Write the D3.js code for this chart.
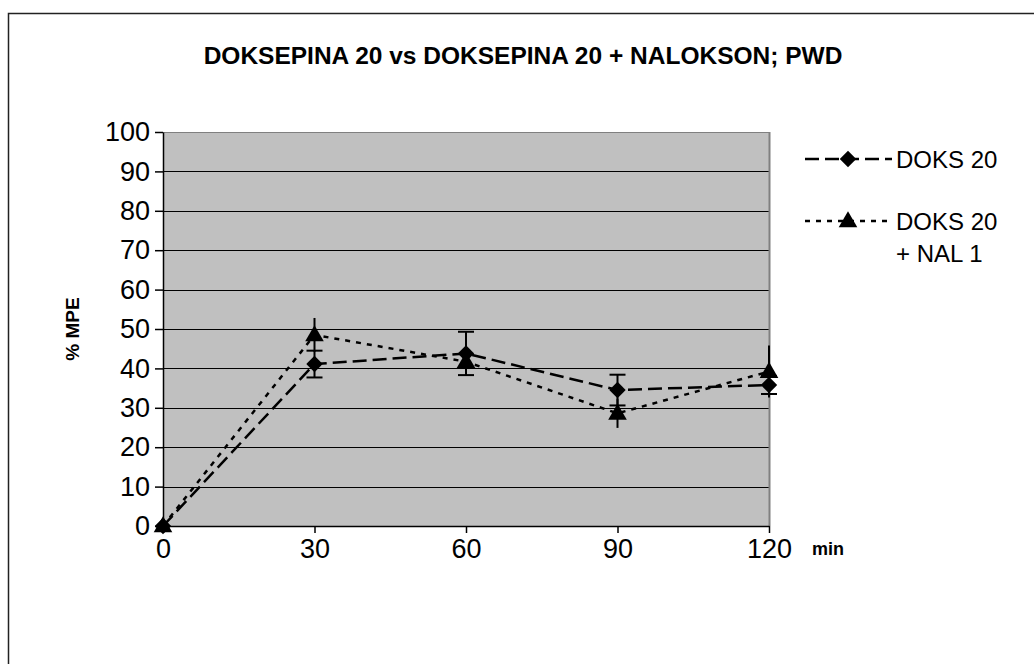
<!DOCTYPE html>
<html>
  <head>
    <style>
      body {
        margin: 0;
        background: white;
        font-family: "Liberation Sans", Arial, sans-serif;
      }
      .tick text {
        font-family: "Liberation Sans", Arial, sans-serif;
      }
    </style>
  </head>
<body>
  <div id="chart"></div>

  <script src="https://d3js.org/d3.v7.min.js"></script>
  <script>

    // data
    var minutes = [0, 30, 60, 90, 120];
    var doks20 = [0, 41.1, 43.8, 34.5, 35.8];
    var doks20Err = [0, 3.4, 5.5, 3.9, 2.3];
    var doksNal = [0, 48.5, 41.7, 28.6, 39.2];
    var doksNalErr = [0, 4.3, 2.5, 3.7, 6.6];
    var yTicks = [0, 10, 20, 30, 40, 50, 60, 70, 80, 90, 100];

    var width = 1034, height = 664;
    var plot = {left: 163, right: 769, top: 132, bottom: 526};

    var svg = d3.select("#chart")
      .append("svg")
      .attr("width", width)
      .attr("height", height);

    // outer chart frame, runs off the right and bottom edge
    svg.append("rect")
      .attr("x", 8.5)
      .attr("y", 13.5)
      .attr("width", 1200)
      .attr("height", 900)
      .style("fill", "white")
      .style("stroke", "#222")
      .style("stroke-width", 1.5);

    var x = d3.scaleLinear()
      .domain([0, 120])
      .range([plot.left, plot.right]);

    var y = d3.scaleLinear()
      .domain([0, 100])
      .range([plot.bottom, plot.top]);

    // gray plot area
    svg.append("rect")
      .attr("x", plot.left)
      .attr("y", plot.top)
      .attr("width", plot.right - plot.left)
      .attr("height", plot.bottom - plot.top)
      .style("fill", "#c0c0c0");

    svg.append("g")
      .selectAll("line")
      .data(yTicks.filter(function(d) { return d > 0; }))
      .enter()
      .append("line")
        .attr("x1", plot.left)
        .attr("x2", plot.right)
        .attr("y1", function(d) { return Math.round(y(d)) + 0.5; })
        .attr("y2", function(d) { return Math.round(y(d)) + 0.5; })
        .style("stroke", function(d) { return d === 100 ? "#808080" : "#000"; })
        .style("stroke-width", 1);

    svg.append("line")
      .attr("x1", plot.right + 0.5)
      .attr("x2", plot.right + 0.5)
      .attr("y1", plot.top)
      .attr("y2", plot.bottom)
      .style("stroke", "#808080")
      .style("stroke-width", 2);

    var xAxis = svg.append("g")
      .attr("transform", "translate(0," + plot.bottom + ")")
      .call(d3.axisBottom(x).tickValues(minutes).tickSize(7).tickPadding(6).tickSizeOuter(0));
    xAxis.selectAll("text").style("font-size", "27px").style("fill", "#000");

    var yAxis = svg.append("g")
      .attr("transform", "translate(" + plot.left + ",0)")
      .call(d3.axisLeft(y).tickValues(yTicks).tickSize(8).tickPadding(5).tickSizeOuter(0));
    yAxis.selectAll("text").style("font-size", "27px").style("fill", "#000");
    svg.selectAll(".domain, .tick line").style("stroke", "#000").style("stroke-width", 1.5);

    svg.append("text")
      .attr("x", 523)
      .attr("y", 64)
      .style("text-anchor", "middle")
      .style("font-size", "24.5px")
      .style("font-weight", "bold")
      .text("DOKSEPINA 20 vs DOKSEPINA 20 + NALOKSON; PWD");

    svg.append("text")
      .attr("transform", "translate(79,329) rotate(-90)")
      .style("text-anchor", "middle")
      .style("font-size", "19px")
      .style("font-weight", "bold")
      .text("% MPE");

    svg.append("text")
      .attr("x", 812)
      .attr("y", 555)
      .style("font-size", "18px")
      .style("font-weight", "bold")
      .text("min");

    var series = [
      {name: "DOKS 20", values: doks20, err: doks20Err, dash: "14,6", symbol: d3.symbolSquare, rot: 45, size: 135, dy: 0, caps: true},
      {name: "DOKS 20 + NAL 1", values: doksNal, err: doksNalErr, dash: "5,6", symbol: d3.symbolTriangle, rot: 0, size: 150, dy: 1, caps: false}
    ];

    var line = d3.line()
      .x(function(d) { return x(d.t); })
      .y(function(d) { return y(d.v); });

    series.forEach(function(s) {
      var pts = minutes.map(function(t, i) { return {t: t, v: s.values[i], e: s.err[i]}; });

      svg.append("path")
        .datum(pts)
        .attr("d", line)
        .style("fill", "none")
        .style("stroke", "#000")
        .style("stroke-width", 2.5)
        .style("stroke-dasharray", s.dash);

      var eb = svg.append("g").selectAll("g")
        .data(pts.filter(function(d) { return d.e > 0; }))
        .enter()
        .append("g");
      eb.append("line")
        .attr("x1", function(d) { return x(d.t); })
        .attr("x2", function(d) { return x(d.t); })
        .attr("y1", function(d) { return y(d.v - d.e); })
        .attr("y2", function(d) { return y(d.v + d.e); })
        .style("stroke", "#000")
        .style("stroke-width", 2);
      if (s.caps) {
        [-1, 1].forEach(function(sign) {
          eb.append("line")
            .attr("x1", function(d) { return x(d.t) - 8; })
            .attr("x2", function(d) { return x(d.t) + 8; })
            .attr("y1", function(d) { return y(d.v + sign * d.e); })
            .attr("y2", function(d) { return y(d.v + sign * d.e); })
            .style("stroke", "#000")
            .style("stroke-width", 2);
        });
      }

      svg.append("g").selectAll("path")
        .data(pts)
        .enter()
        .append("path")
          .attr("transform", function(d) {
            return "translate(" + x(d.t) + "," + (y(d.v) + s.dy) + ") rotate(" + s.rot + ")";
          })
          .attr("d", d3.symbol().type(s.symbol).size(s.size))
          .style("fill", "#000");
    });

    // legend
    var legend = svg.append("g");
    var legendRows = [
      {y: 159, textY: [168], lines: ["DOKS 20"]},
      {y: 221, textY: [230, 262], lines: ["DOKS 20", "+ NAL 1"]}
    ];
    legendRows.forEach(function(r, i) {
      var s = series[i];
      legend.append("line")
        .attr("x1", 805)
        .attr("x2", 892)
        .attr("y1", r.y)
        .attr("y2", r.y)
        .style("stroke", "#000")
        .style("stroke-width", 2.5)
        .style("stroke-dasharray", s.dash);
      legend.append("path")
        .attr("transform", "translate(848," + (r.y + s.dy) + ") rotate(" + s.rot + ")")
        .attr("d", d3.symbol().type(s.symbol).size(s.size))
        .style("fill", "#000");
      r.lines.forEach(function(t, j) {
        legend.append("text")
          .attr("x", 896)
          .attr("y", r.textY[j])
          .style("font-size", "24px")
          .text(t);
      });
    });

  </script>
</body>
</html>
